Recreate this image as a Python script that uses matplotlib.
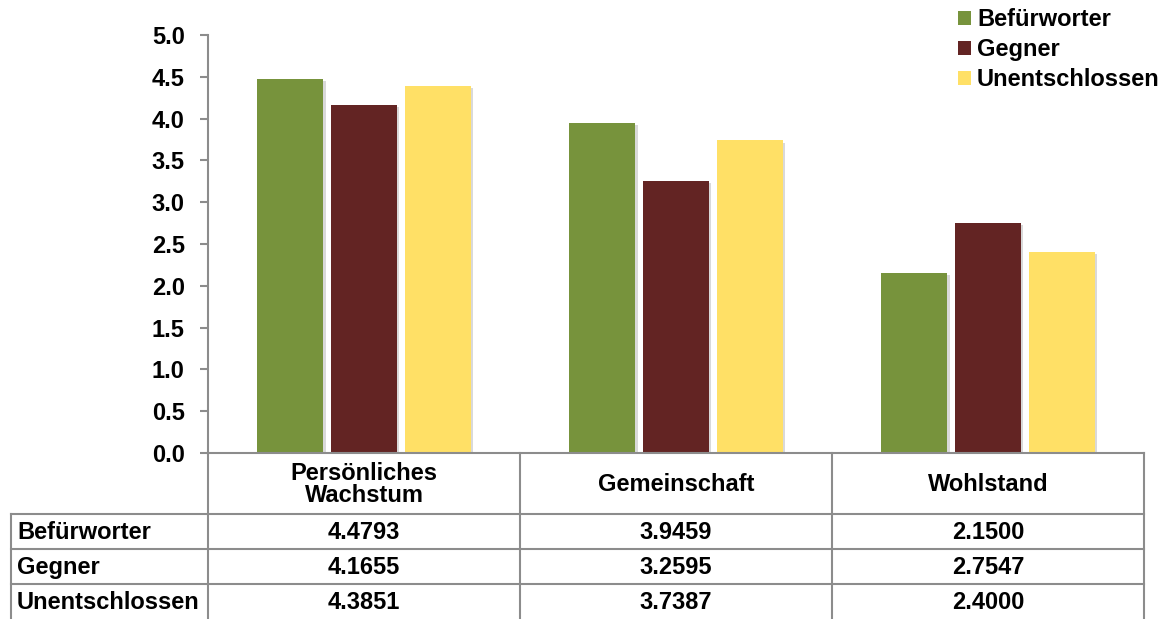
import matplotlib
matplotlib.use("Agg")
import matplotlib.pyplot as plt
from matplotlib.lines import Line2D
from matplotlib.patches import Patch
import matplotlib.patheffects as pe
import numpy as np

categories = ["Persönliches\nWachstum", "Gemeinschaft", "Wohlstand"]
series_names = ["Befürworter", "Gegner", "Unentschlossen"]
befuerworter = [4.4793, 3.9459, 2.1500]
gegner = [4.1655, 3.2595, 2.7547]
unentschlossen = [4.3851, 3.7387, 2.4000]
yticks = [0.0, 0.5, 1.0, 1.5, 2.0, 2.5, 3.0, 3.5, 4.0, 4.5, 5.0]
colors = ["#77933C", "#632423", "#FFE066"]
series = [befuerworter, gegner, unentschlossen]

plt.rcParams['font.family'] = ['Liberation Sans', 'DejaVu Sans']
plt.rcParams['font.weight'] = 'bold'
FS = 17
GRID = "#8C8C8C"

W, H = 1166, 619
fig = plt.figure(figsize=(W / 100, H / 100), dpi=100)

x0, x1, ytop, ybot = 208, 1144, 35, 453
ax = fig.add_axes([x0 / W, 1 - ybot / H, (x1 - x0) / W, (ybot - ytop) / H])
x = np.arange(len(categories))
bw = 0.212
off = 0.236
for i, (vals, c, name) in enumerate(zip(series, colors, series_names)):
    bars = ax.bar(x + (i - 1) * off, vals, width=bw, color=c, label=name, zorder=3)
    for b in bars:
        b.set_path_effects([pe.SimplePatchShadow(offset=(1.5, -1.5), shadow_rgbFace='#000000', alpha=0.15), pe.Normal()])

ax.set_xlim(-0.5, len(categories) - 0.5)
ax.set_ylim(0, 5)
ax.set_yticks(yticks)
ax.set_yticklabels([f"{t:.1f}" for t in yticks], fontsize=FS, fontweight='bold')
ax.set_xticks([])
for s in ["top", "right"]:
    ax.spines[s].set_visible(False)
for s in ["left", "bottom"]:
    ax.spines[s].set_color(GRID)
    ax.spines[s].set_linewidth(1.5)
ax.spines["bottom"].set_zorder(5)
ax.tick_params(axis='y', direction='out', length=5.8, width=1.5, color=GRID, pad=11)

# Table
tab = fig.add_axes([0, 0, 1, 1])
tab.set_xlim(0, W)
tab.set_ylim(H, 0)
tab.axis('off')
tab.patch.set_alpha(0)
colw = (x1 - x0) / len(categories)
col_edges = [x0 + k * colw for k in range(len(categories) + 1)]
header_bottom = 514
row_h = 35
row_edges = [header_bottom + k * row_h for k in range(len(series_names) + 1)]
lw = 1.5
for cx in col_edges:
    tab.add_line(Line2D([cx, cx], [ybot, H], color=GRID, lw=lw))
tab.add_line(Line2D([11, 11], [header_bottom, H], color=GRID, lw=lw))
for ry in row_edges[:-1]:
    tab.add_line(Line2D([11, x1], [ry, ry], color=GRID, lw=lw))

for j, cat in enumerate(categories):
    cx = (col_edges[j] + col_edges[j + 1]) / 2
    tab.text(cx, (ybot + header_bottom) / 2 + 1, cat, ha='center', va='center',
             fontsize=FS, fontweight='bold', linespacing=0.95)
for i, (name, vals) in enumerate(zip(series_names, series)):
    cy = header_bottom + (i + 0.5) * row_h + 1
    tab.text(17, cy, name, ha='left', va='center', fontsize=FS, fontweight='bold')
    for j, v in enumerate(vals):
        cx = (col_edges[j] + col_edges[j + 1]) / 2
        tab.text(cx, cy, f"{v:.4f}", ha='center', va='center', fontsize=FS, fontweight='bold')

handles = [Patch(facecolor=c, label=n) for c, n in zip(colors, series_names)]
fig.legend(handles=handles, loc='upper left', bbox_to_anchor=(958 / W, 1 - 8 / H),
           frameon=False, handlelength=0.55, handleheight=0.55,
           handletextpad=0.25, labelspacing=0.3, borderpad=0, borderaxespad=0,
           prop={'weight': 'bold', 'size': FS})

fig.savefig("out.png", dpi=100)
